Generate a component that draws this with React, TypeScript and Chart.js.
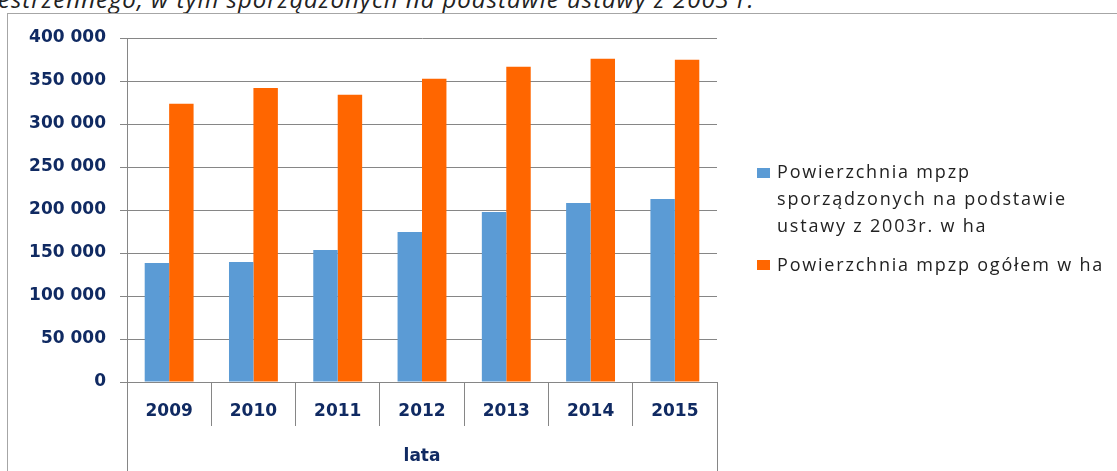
import React, { useEffect, useRef } from "react";
import { Chart, registerables } from "chart.js";

Chart.register(...registerables);

const years = ["2009", "2010", "2011", "2012", "2013", "2014", "2015"];
const area2003 = [138300, 139400, 153400, 174400, 197700, 208200, 212900];
const areaTotal = [323500, 342000, 334000, 352600, 366600, 375900, 374700];
const seriesNames = [
  ["Powierzchnia mpzp", "sporządzonych na podstawie", "ustawy z 2003r. w ha"],
  ["Powierzchnia mpzp ogółem w ha"],
];
const axisTitle = "lata";
const headerText = "estrzennego, w tym sporządzonych na podstawie ustawy z 2003 r.";

const BLUE = "#5B9BD5";
const ORANGE = "#FF6600";
const NAVY = "#102A62";
const GRID = "#868686";

const fmt = (v: number) => String(v).replace(/\B(?=(\d{3})+(?!\d))/g, " ");

const axisExtend = {
  id: "axisExtend",
  afterDraw(chart: any) {
    const { ctx, chartArea, height } = chart;
    ctx.save();
    ctx.strokeStyle = GRID;
    ctx.lineWidth = 1;
    [chartArea.left, chartArea.right].forEach((x: number) => {
      const px = Math.round(x) + 0.5;
      ctx.beginPath();
      ctx.moveTo(px, chartArea.bottom);
      ctx.lineTo(px, height);
      ctx.stroke();
    });
    ctx.restore();
  },
};

export default function App() {
  const ref = useRef<HTMLCanvasElement>(null);
  useEffect(() => {
    if (!ref.current) return;
    const font = { family: "'DejaVu Sans', Verdana, sans-serif", size: 17, weight: "bold" as const };
    const chart = new Chart(ref.current, {
      type: "bar",
      data: {
        labels: years,
        datasets: [
          { label: seriesNames[0].join(" "), data: area2003, backgroundColor: BLUE, categoryPercentage: 0.58, barPercentage: 1 },
          { label: seriesNames[1].join(" "), data: areaTotal, backgroundColor: ORANGE, categoryPercentage: 0.58, barPercentage: 1 },
        ],
      },
      options: {
        responsive: false,
        animation: false,
        devicePixelRatio: 1,
        layout: { padding: { left: 0, top: 38, right: 400, bottom: 0 } },
        plugins: { legend: { display: false }, tooltip: { enabled: false }, title: { display: false } },
        scales: {
          y: {
            min: 0,
            max: 400000,
            ticks: { stepSize: 50000, font, color: NAVY, padding: 14, callback: (v: any) => fmt(Number(v)) },
            grid: { color: GRID, lineWidth: 1, tickLength: 7, drawTicks: true },
            border: { display: true, color: GRID, width: 1 },
            afterFit: (s: any) => { s.width = 127; },
          },
          x: {
            offset: true,
            ticks: { font, color: NAVY, padding: -25, maxRotation: 0, autoSkip: false },
            grid: { offset: true, drawOnChartArea: false, drawTicks: true, tickLength: 44, color: GRID, lineWidth: 1 },
            border: { display: true, color: GRID, width: 1 },
            title: { display: true, text: axisTitle, font, color: NAVY, padding: { top: 0, bottom: 4 } },
            afterFit: (s: any) => { s.height = 89; },
          },
        },
      },
      plugins: [axisExtend],
    });
    return () => chart.destroy();
  }, []);

  const legendFont: React.CSSProperties = {
    position: "absolute",
    left: 777,
    fontFamily: "'Open Sans', sans-serif",
    fontSize: 18,
    lineHeight: "27px",
    color: "#222",
    whiteSpace: "nowrap",
    letterSpacing: "1.8px",
  };

  return (
    <div style={{ position: "absolute", left: 0, top: 0, width: 1117, height: 471, overflow: "hidden", background: "#fff" }}>
      <div
        style={{
          position: "absolute",
          left: -2,
          top: -13,
          fontFamily: "'Open Sans', sans-serif",
          fontStyle: "italic",
          fontSize: 24,
          lineHeight: "24px",
          letterSpacing: "1px",
          color: "#222",
          whiteSpace: "nowrap",
        }}
      >
        {headerText}
      </div>
      <div style={{ position: "absolute", left: 7, top: 13, width: 1117, height: 460, borderTop: "1px solid #A6A6A6", borderLeft: "1px solid #A6A6A6" }} />
      <canvas ref={ref} width={1117} height={471} style={{ position: "absolute", left: 0, top: 0, width: 1117, height: 471 }} />
      <div style={{ position: "absolute", left: 757, top: 168, width: 13, height: 10, background: BLUE }} />
      <div style={{ ...legendFont, top: 158 }}>
        {seriesNames[0].map((t, i) => (
          <div key={i}>{t}</div>
        ))}
      </div>
      <div style={{ position: "absolute", left: 757, top: 260, width: 13, height: 10, background: ORANGE }} />
      <div style={{ ...legendFont, top: 251 }}>
        {seriesNames[1].map((t, i) => (
          <div key={i}>{t}</div>
        ))}
      </div>
    </div>
  );
}
